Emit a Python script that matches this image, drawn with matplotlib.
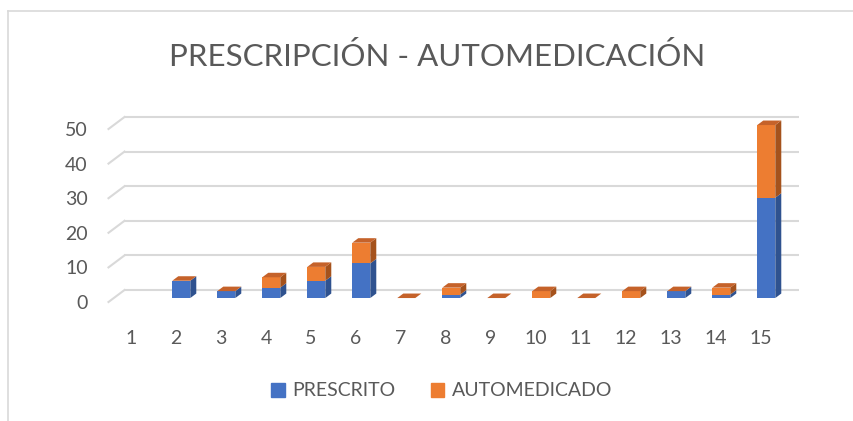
import math
import matplotlib.pyplot as plt
from matplotlib.patches import Polygon, Patch
from matplotlib.lines import Line2D

categories = [str(i) for i in range(1, 16)]
# category 1 has no data (nothing drawn in the reference)
prescrito = [math.nan, 5, 2, 3, 5, 10, 0, 1, 0, 0, 0, 0, 2, 1, 29]
automedicado = [math.nan, 0, 0, 3, 4, 6, 0, 2, 0, 2, 0, 2, 0, 2, 21]
yticks = [0, 10, 20, 30, 40, 50]
series_names = ["PRESCRITO", "AUTOMEDICADO"]
title = "PRESCRIPCIÓN - AUTOMEDICACIÓN"

FONT = "Lato"
plt.rcParams['font.family'] = [FONT, 'DejaVu Sans']
TXT = '#595959'
GRID = '#d9d9d9'
BLUE, BLUE_SIDE = '#4472C4', '#2F528F'
ORANGE, ORANGE_SIDE, ORANGE_TOP = '#ED7D31', '#A5521C', '#C5622A'

W, H = 854, 421
fig = plt.figure(figsize=(W / 100, H / 100), dpi=100)

# chart border (top & left visible)
fig.add_artist(Line2D([8 / W, 8 / W], [0, 1 - 11 / H], color=GRID, lw=1.2, transform=fig.transFigure))
fig.add_artist(Line2D([8 / W, 1], [1 - 11 / H, 1 - 11 / H], color=GRID, lw=1.2, transform=fig.transFigure))

x0, x1 = 108.5, 783.5
ytop, ybot = 129, 302
ax = fig.add_axes([x0 / W, (H - ybot) / H, (x1 - x0) / W, (ybot - ytop) / H])
ax.set_xlim(0.5, 15.5)
ax.set_ylim(0, 50)
for s in ax.spines.values():
    s.set_visible(False)
ax.patch.set_visible(False)

# depth of the floor in data units
px_x = (x1 - x0) / 15.0
px_y = (ybot - ytop) / 50.0
DX = 16 / px_x
DY = 12 / px_y

# gridlines (back wall + left diagonal)
for v in yticks:
    ax.plot([0.5 + DX, 15.5 + DX], [v + DY, v + DY], color=GRID, lw=1.5, clip_on=False, zorder=1, solid_capstyle='butt')
    ax.plot([0.5, 0.5 + DX], [v, v + DY], color=GRID, lw=1.5, clip_on=False, zorder=1)

# bars
d0 = 0.33
dd = 0.375
bw = 18 / px_x
sx, sy = d0 * DX, d0 * DY
ddx, ddy = dd * DX, dd * DY
pos = list(range(1, 16))
xs = [p + sx for p in pos]
p_vals = [0 if math.isnan(v) else v for v in prescrito]
a_vals = [0 if math.isnan(v) else v for v in automedicado]
ax.bar(xs, p_vals, width=bw, bottom=sy, color=BLUE, zorder=3, clip_on=False, linewidth=0)
ax.bar(xs, a_vals, width=bw, bottom=[sy + p for p in p_vals], color=ORANGE, zorder=3, clip_on=False, linewidth=0)

for xc, p, a in zip(xs, prescrito, automedicado):
    if math.isnan(p) and math.isnan(a):
        continue
    bx = xc - bw / 2
    r = bx + bw
    for lo, hi, col in [(sy, sy + p, BLUE_SIDE), (sy + p, sy + p + a, ORANGE_SIDE)]:
        if hi > lo:
            ax.add_patch(Polygon([(r, lo), (r + ddx, lo + ddy), (r + ddx, hi + ddy), (r, hi)],
                                 closed=True, facecolor=col, edgecolor='none', zorder=3, clip_on=False))
    top = sy + p + a
    ax.add_patch(Polygon([(bx, top), (r, top), (r + ddx, top + ddy), (bx + ddx, top + ddy)],
                         closed=True, facecolor=ORANGE_TOP, edgecolor='none', zorder=3, clip_on=False))

ax.set_xticks(pos, categories)
ax.set_yticks(yticks, [str(v) for v in yticks])
ax.tick_params(axis='both', length=0, labelsize=14, labelcolor=TXT)
ax.tick_params(axis='x', pad=20)
ax.tick_params(axis='y', pad=15)

fig.text(437 / W, 1 - 56 / H, title, ha='center', va='center', fontsize=22.5, color=TXT)

handles = [Patch(color=BLUE), Patch(color=ORANGE)]
fig.legend(handles, series_names, ncol=2, loc='center', bbox_to_anchor=(442 / W, 1 - 391 / H),
           frameon=False, fontsize=14, handlelength=0.7, handleheight=0.7, handletextpad=0.4,
           columnspacing=1.8, labelcolor=TXT)

fig.savefig('out.png', dpi=100)
